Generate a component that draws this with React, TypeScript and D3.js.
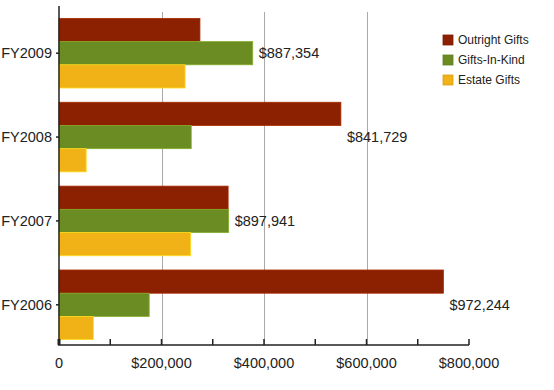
import * as d3 from 'd3';
import { useEffect, useRef } from 'react';

const years = ['FY2009', 'FY2008', 'FY2007', 'FY2006'];
const seriesNames = ['Outright Gifts', 'Gifts-In-Kind', 'Estate Gifts'];
const outrightGifts = [275000, 550000, 330000, 750000];
const giftsInKind = [378000, 258000, 331000, 176000];
const estateGifts = [246000, 53000, 257000, 67000];
const totalLabels = ['$887,354', '$841,729', '$897,941', '$972,244'];
const xTicks = [0, 200000, 400000, 600000, 800000];
const colors = ['#8b2100', '#6b8c23', '#f0b216'];

const App: React.FC = () => {
  const ref = useRef(null);

  useEffect(() => {
    const svg = d3.select(ref.current);
    svg.selectAll('*').remove();
    const width = 554, height = 390;
    const left = 59, right = 469, top = 10, axisY = 345;
    const font = 'Arial, "Liberation Sans", sans-serif';

    const series = [outrightGifts, giftsInKind, estateGifts];
    const x = d3.scaleLinear().domain([0, 800000]).range([left, right]);
    const y0 = d3.scaleBand().domain(years).range([top, axisY + 3]).paddingInner(0.17).paddingOuter(0.1);
    const y1 = d3.scaleBand().domain(seriesNames).range([0, y0.bandwidth()]);

    svg.attr('width', width).attr('height', height);
    const g = svg.append('g');

    // grid lines
    g.selectAll('.grid')
      .data([200000, 400000, 600000])
      .enter()
      .append('line')
      .attr('x1', (d) => Math.round(x(d)) + 0.5)
      .attr('x2', (d) => Math.round(x(d)) + 0.5)
      .attr('y1', 12)
      .attr('y2', axisY)
      .attr('stroke', '#aaaaaa')
      .attr('stroke-width', 1);

    // bars
    years.forEach((yr, i) => {
      seriesNames.forEach((s, j) => {
        g.append('rect')
          .attr('x', x(0))
          .attr('y', (y0(yr) as number) + (y1(s) as number))
          .attr('width', x(series[j][i]) - x(0))
          .attr('height', y1.bandwidth())
          .attr('fill', colors[j])
          .attr('stroke', d3.color(colors[j])!.brighter(0.6).toString())
          .attr('stroke-width', 0.8);
      });
      const maxVal = Math.max(...series.map((sr) => sr[i]));
      g.append('text')
        .attr('x', x(maxVal) + 6)
        .attr('y', (y0(yr) as number) + (y1(seriesNames[1]) as number) + y1.bandwidth() / 2)
        .attr('dy', '0.35em')
        .style('font-family', font)
        .style('font-size', '14.5px')
        .attr('fill', '#222')
        .text(totalLabels[i]);
    });

    // left axis
    g.append('line')
      .attr('x1', left).attr('x2', left)
      .attr('y1', 6).attr('y2', axisY)
      .attr('stroke', '#222').attr('stroke-width', 1.5);
    years.forEach((yr) => {
      const cy = (y0(yr) as number) + y0.bandwidth() / 2;
      g.append('line')
        .attr('x1', left - 3).attr('x2', left)
        .attr('y1', cy).attr('y2', cy)
        .attr('stroke', '#222').attr('stroke-width', 1.5);
      g.append('text')
        .attr('x', 52)
        .attr('y', cy)
        .attr('dy', '0.35em')
        .attr('text-anchor', 'end')
        .style('font-family', font)
        .style('font-size', '14.5px')
        .attr('fill', '#222')
        .text(yr);
    });

    // bottom axis
    g.append('line')
      .attr('x1', left - 1).attr('x2', right)
      .attr('y1', axisY).attr('y2', axisY)
      .attr('stroke', '#222').attr('stroke-width', 1.5);
    d3.range(0, 800001, 100000).forEach((v) => {
      g.append('line')
        .attr('x1', x(v)).attr('x2', x(v))
        .attr('y1', axisY - 6).attr('y2', axisY)
        .attr('stroke', '#222').attr('stroke-width', v === 0 ? 3 : 1.5);
    });
    g.selectAll('.xlabel')
      .data(xTicks)
      .enter()
      .append('text')
      .attr('x', (d) => x(d))
      .attr('y', 363)
      .attr('dy', '0.35em')
      .attr('text-anchor', 'middle')
      .style('font-family', font)
      .style('font-size', '14.5px')
      .attr('fill', '#222')
      .text((d) => (d === 0 ? '0' : d3.format('$,')(d)));

    // legend
    const legendG = g
      .selectAll('.legend')
      .data(seriesNames)
      .enter()
      .append('g')
      .attr('transform', (d, i) => 'translate(443,' + (35 + i * 20) + ')');
    legendG
      .append('rect')
      .attr('width', 10)
      .attr('height', 10)
      .attr('fill', (d, i) => colors[i])
      .attr('stroke', (d, i) => d3.color(colors[i])!.darker(0.3).toString())
      .attr('stroke-width', 0.8);
    legendG
      .append('text')
      .attr('x', 15)
      .attr('y', 5)
      .attr('dy', '0.35em')
      .style('font-family', font)
      .style('font-size', '12px')
      .attr('fill', '#222')
      .text((d) => d);
  }, []);

  return (
    <div style={{ position: 'absolute', left: 0, top: 0 }}>
      <svg ref={ref} style={{ display: 'block' }}></svg>
    </div>
  );
};

export default App;
